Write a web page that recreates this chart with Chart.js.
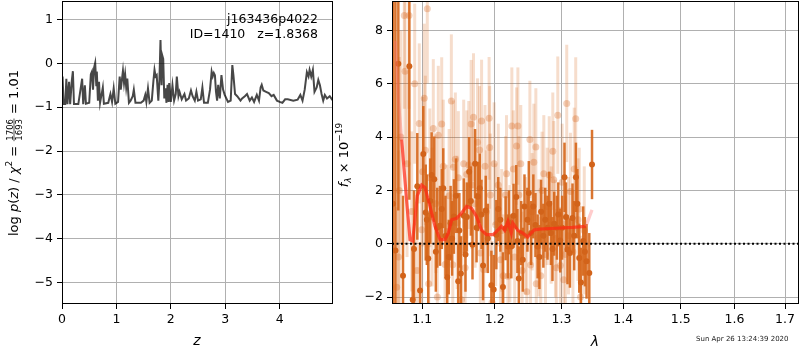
<!DOCTYPE html>
<html>
<head>
<meta charset="utf-8">
<script src="https://cdn.jsdelivr.net/npm/chart.js@4.4.0/dist/chart.umd.min.js"></script>
<style>
  body { margin: 0; background: #fff; }
  #wrap { position: relative; width: 800px; height: 350px; }
  canvas { position: absolute; top: 0; }
  #pz { left: 0; }
  #spec { left: 330px; }
</style>
</head>
<body>
<div id="wrap">
  <canvas id="pz" width="340" height="350"></canvas>
  <canvas id="spec" width="470" height="350"></canvas>
</div>
<script>
// ---- left panel: log p(z) ----
const zGrid = [0.00, 0.01, 0.03, 0.06, 0.08, 0.10, 0.13, 0.15, 0.18, 0.20, 0.22, 0.30, 0.34, 0.37, 0.39, 0.42, 0.44, 0.50,
  0.53, 0.55, 0.57, 0.59, 0.61, 0.63, 0.64, 0.66, 0.68, 0.70, 0.75, 0.77, 0.85, 0.89, 0.92, 0.95, 0.98, 1.03,
  1.06, 1.08, 1.12, 1.14, 1.16, 1.18, 1.20, 1.23, 1.26, 1.30, 1.32, 1.35, 1.45, 1.50, 1.53, 1.55, 1.58, 1.61,
  1.65, 1.68, 1.70, 1.72, 1.74, 1.77, 1.79, 1.81, 1.83, 1.84, 1.86, 1.88, 1.90, 1.92, 1.94, 1.96, 1.97, 2.00,
  2.03, 2.06, 2.09, 2.11, 2.14, 2.16, 2.20, 2.25, 2.28, 2.33, 2.37, 2.40, 2.44, 2.47, 2.50, 2.55, 2.58, 2.61,
  2.68, 2.72, 2.75, 2.77, 2.79, 2.81, 2.83, 2.85, 2.87, 2.90, 2.93, 2.96, 2.99, 3.05, 3.10, 3.13, 3.15, 3.18,
  3.22, 3.28, 3.31, 3.36, 3.40, 3.45, 3.49, 3.53, 3.58, 3.62, 3.65, 3.67, 3.70, 3.75, 3.80, 3.85, 3.89, 3.95,
  4.00, 4.05, 4.10, 4.15, 4.25, 4.33, 4.38, 4.42, 4.46, 4.50, 4.53, 4.55, 4.58, 4.61, 4.64, 4.68, 4.71, 4.74,
  4.77, 4.80, 4.83, 4.87, 4.92, 4.96, 5.00];
const logPz = [-0.55, -0.30, -0.93, -0.93, -0.35, -0.93, -0.42, -0.93, -0.40, -0.18, -0.93, -0.93, -0.60, -0.35, -0.93, -0.50, -0.92, -0.90,
  -0.25, -0.19, -0.60, -0.10, 0.01, -0.50, -0.19, -0.85, -0.42, -0.90, -0.55, -0.92, -0.90, -0.70, -0.88, -0.57, -0.92, -0.88,
  -0.30, -0.60, -0.17, -0.45, -0.25, -0.55, -0.35, -0.90, -0.85, -0.75, -0.60, -0.90, -0.90, -0.85, -0.72, -0.88, -0.57, -0.90,
  -0.85, -0.40, -0.15, -0.30, -0.27, -0.85, -0.40, 0.53, -0.50, 0.19, 0.10, -0.80, -0.57, -0.90, -0.49, -0.88, -0.45, -0.88,
  -0.50, -0.85, -0.70, -0.30, -0.75, -0.65, -0.82, -0.70, -0.85, -0.80, -0.62, -0.75, -0.85, -0.65, -0.85, -0.82, -0.55, -0.90,
  -0.90, -0.60, -0.19, -0.30, -0.22, -0.27, -0.65, -0.85, -0.49, -0.80, -0.27, -0.60, -0.72, -0.88, -0.85, -0.04, -0.27, -0.70,
  -0.75, -0.85, -0.80, -0.75, -0.70, -0.85, -0.78, -0.88, -0.72, -0.85, -0.55, -0.49, -0.62, -0.65, -0.68, -0.75, -0.72, -0.85,
  -0.88, -0.90, -0.82, -0.82, -0.85, -0.83, -0.72, -0.85, -0.60, -0.20, -0.30, -0.15, -0.30, -0.15, -0.65, -0.55, -0.38, -0.50,
  -0.70, -0.85, -0.72, -0.80, -0.75, -0.82, -0.78];
const zTicks = [0, 1, 2, 3, 4];
const logPzTicks = [-5, -4, -3, -2, -1, 0, 1];

// ---- right panel: spectrum (flux in 1e-19 units) ----
const darkLam = [1.0620, 1.0651, 1.0688, 1.0748, 1.0830, 1.0874, 1.0891, 1.0934, 1.0970, 1.1013, 1.1045, 1.1060,
  1.1079, 1.1105, 1.1124, 1.1159, 1.1180, 1.1199, 1.1236, 1.1260, 1.1280, 1.1310, 1.1334, 1.1355, 1.1380, 1.1400,
  1.1425, 1.1455, 1.1484, 1.1500, 1.1521, 1.1562, 1.1585, 1.1604, 1.1636, 1.1660, 1.1683, 1.1719, 1.1740, 1.1761,
  1.1785, 1.1810, 1.1832, 1.1870, 1.1900, 1.1951, 1.1984, 1.2022, 1.2050, 1.2080, 1.2118, 1.2157, 1.2190, 1.2205,
  1.2240, 1.2273, 1.2313, 1.2330, 1.2351, 1.2386, 1.2410, 1.2435, 1.2479, 1.2500, 1.2534, 1.2568, 1.2600, 1.2633,
  1.2660, 1.2685, 1.2720, 1.2749, 1.2784, 1.2810, 1.2836, 1.2860, 1.2887, 1.2929, 1.2950, 1.2980, 1.3010, 1.3047,
  1.3070, 1.3094, 1.3132, 1.3173, 1.3200, 1.3227, 1.3250, 1.3280, 1.3307, 1.3344, 1.3370, 1.3397, 1.3441, 1.3485];
const darkFlux = [1.5, -0.25, 6.75, -1.2, 6.65, -2.1, -0.2, 2.15, -1.75, 3.36, 1.17, 0.9,
  -0.55, 1.6, 2.58, 2.42, -0.3, 0.6, 0.67, 1.3, 2.08, 0.3, -1.26, -0.5, 0.77, 0.2,
  1.02, 1.8, -1.41, 0.5, -1.12, 1.05, -0.4, 1.0, 2.7, 1.6, -0.04, 3.0, 0.6, 1.77,
  2.08, 1.1, -0.82, 1.25, 0.2, -1.56, -1.72, 0.34, 1.3, 0.9, -1.62, 0.58, -0.1, 0.8,
  -0.1, 1.05, 1.75, 0.1, -1.3, 0.4, -0.6, 1.4, 0.9, 1.9, 0.4, 1.4, 0.7, -0.1,
  -0.5, 1.2, 0.3, 0.9, 0.6, 1.5, 0.4, -0.2, 0.75, 0.6, 1.1, 0.12, 0.6, 2.49,
  1.0, -0.22, -0.35, 0.96, 0.3, 2.49, 1.5, -0.54, -1.45, 0.1, -0.3, -0.66, -1.1, 2.97];
const darkErr = [20, 14, 5.5, 3.0, 5.0, 2.0, 2.2, 2.0, 1.8, 1.8, 1.8, 1.7,
  1.7, 1.6, 1.6, 1.6, 1.5, 1.5, 1.5, 1.5, 1.5, 1.5, 1.5, 1.4, 1.4, 1.4,
  1.4, 1.4, 1.4, 1.4, 1.4, 1.4, 1.4, 1.3, 1.3, 1.3, 1.3, 1.3, 1.3, 1.3,
  1.3, 1.3, 1.3, 1.3, 1.3, 1.3, 1.3, 1.3, 1.2, 1.2, 1.3, 1.2, 1.2, 1.2,
  1.2, 1.2, 1.2, 1.2, 1.2, 1.2, 1.2, 1.2, 1.2, 1.2, 1.2, 1.2, 1.2, 1.2,
  1.2, 1.2, 1.2, 1.2, 1.2, 1.2, 1.2, 1.2, 1.2, 1.2, 1.2, 1.2, 1.2, 1.3,
  1.3, 1.3, 1.3, 1.3, 1.3, 1.3, 1.3, 1.3, 1.3, 1.3, 1.3, 1.4, 1.5, 1.3];

const lightLam = [1.0667, 1.0690, 1.0700, 1.0720, 1.0765, 1.0774, 1.0800, 1.0826, 1.0861, 1.0900, 1.0930, 1.0960,
  1.0992, 1.1005, 1.1026, 1.1040, 1.1066, 1.1085, 1.1100, 1.1130, 1.1146, 1.1180, 1.1200, 1.1213, 1.1259, 1.1280,
  1.1304, 1.1327, 1.1360, 1.1390, 1.1410, 1.1418, 1.1445, 1.1470, 1.1486, 1.1530, 1.1560, 1.1580, 1.1603, 1.1631,
  1.1664, 1.1674, 1.1697, 1.1720, 1.1754, 1.1783, 1.1793, 1.1811, 1.1840, 1.1860, 1.1879, 1.1918, 1.1926, 1.1936,
  1.1960, 1.1990, 1.2013, 1.2050, 1.2082, 1.2100, 1.2122, 1.2156, 1.2170, 1.2190, 1.2219, 1.2248, 1.2270, 1.2290,
  1.2318, 1.2337, 1.2352, 1.2380, 1.2400, 1.2450, 1.2470, 1.2516, 1.2526, 1.2550, 1.2576, 1.2606, 1.2612, 1.2651,
  1.2680, 1.2700, 1.2727, 1.2753, 1.2779, 1.2810, 1.2840, 1.2865, 1.2880, 1.2906, 1.2920, 1.2942, 1.2983, 1.3010,
  1.3035, 1.3062, 1.3082, 1.3110, 1.3140, 1.3180, 1.3200, 1.3224, 1.3260, 1.3280, 1.3300, 1.3360];
const lightFlux = [-1.63, -0.5, 2.0, 4.0, 8.56, 6.47, 3.0, 8.56, 1.21, 6.0, -1.0, 4.51,
  0.52, 2.70, 5.45, 3.5, 8.81, -1.5, 2.47, 1.0, 4.32, 1.5, -2.0, 4.07, 4.49, 2.9,
  -0.78, 0.46, 1.8, 5.35, -0.79, 2.87, 3.17, 0.8, 2.47, -2.1, 3.0, -0.9, 2.6, 2.95,
  4.49, 2.2, 4.74, 1.5, 3.80, 3.51, -0.35, 4.60, -0.97, 2.9, 1.2, 4.70, 3.61, 1.83,
  -2.2, 3.0, 0.71, 2.2, -0.6, 0.5, -1.2, 1.83, 2.62, -1.22, 0.0, 4.41, 2.8, -0.5,
  3.66, 4.41, 1.83, 3.0, -1.0, 0.3, -1.8, 3.91, -0.8, 1.2, 3.05, 3.63, -1.5, 0.22,
  -1.2, 2.0, 2.62, -0.4, 1.4, 2.58, 0.7, 3.47, 2.4, 0.2, -0.9, 4.82, -0.82, 2.3,
  -1.35, -0.4, 5.26, 0.3, 1.96, -0.3, 2.8, 4.69, 0.9, 1.3, -2.0, 0.5];
const lightErr = [3.0, 4.0, 5.0, 4.0, 3.5, 3.5, 3.5, 3.5, 3.0, 3.0, 3.0, 3.0,
  2.8, 2.8, 2.8, 2.8, 2.8, 2.7, 2.6, 2.6, 2.6, 2.6, 2.6, 2.6, 2.5, 2.5,
  2.5, 2.5, 2.5, 2.5, 2.5, 2.5, 2.5, 2.5, 2.5, 2.4, 2.4, 2.4, 2.4, 2.4,
  2.4, 2.4, 2.4, 2.4, 2.4, 2.4, 2.3, 2.3, 2.3, 2.3, 2.3, 2.3, 2.3, 2.3,
  2.3, 2.3, 2.3, 2.3, 2.3, 2.3, 2.3, 2.2, 2.2, 2.2, 2.2, 2.2, 2.2, 2.2,
  2.2, 2.2, 2.2, 2.2, 2.2, 2.2, 2.2, 2.2, 2.2, 2.2, 2.2, 2.2, 2.2, 2.2,
  2.2, 2.2, 2.2, 2.2, 2.2, 2.2, 2.2, 2.2, 2.2, 2.2, 2.2, 2.2, 2.2, 2.2,
  2.2, 2.2, 2.2, 2.2, 2.2, 2.3, 2.3, 2.3, 2.3, 2.3, 2.3, 2.4];

const modelLam = [1.0650, 1.0688, 1.0731, 1.0795, 1.0839, 1.0874, 1.0934, 1.0992, 1.1036, 1.1102, 1.1169, 1.1236,
  1.1304, 1.1349, 1.1395, 1.1463, 1.1531, 1.1600, 1.1669, 1.1739, 1.1809, 1.1880, 1.1975, 1.2046, 1.2095, 1.2143,
  1.2190, 1.2240, 1.2263, 1.2336, 1.2409, 1.2483, 1.2534, 1.2583, 1.2658, 1.2912, 1.3173, 1.3386, 1.3485];
const modelFlux = [7.6, 5.38, 3.9, 1.6, 0.15, 0.1, 1.8, 2.2, 2.1, 1.4, 0.65, 0.15,
  0.15, 0.4, 0.9, 0.95, 1.15, 1.4, 1.33, 1.02, 0.52, 0.34, 0.34, 0.52, 0.65, 0.5,
  0.83, 0.4, 0.77, 0.5, 0.4, 0.25, 0.4, 0.52, 0.55, 0.58, 0.61, 0.65, 1.27];

const lamTicks = [1.1, 1.2, 1.3, 1.4, 1.5, 1.6, 1.7];
const fluxTicks = [-2, 0, 2, 4, 6, 8];

const FONT = 'DejaVu Sans';
const GRID = '#b0b0b0';
const minus = v => String(v).replace('-', '\u2212');

// draw error bars under the markers of any dataset that carries `errors`
const errorBars = {
  id: 'errorBars',
  beforeDatasetDraw(chart, args) {
    const ds = chart.data.datasets[args.index];
    if (!ds.errors) return;
    const xs = chart.scales.x, ys = chart.scales.y, a = chart.chartArea, ctx = chart.ctx;
    ctx.save();
    ctx.beginPath();
    ctx.rect(a.left, a.top, a.right - a.left, a.bottom - a.top);
    ctx.clip();
    ctx.strokeStyle = ds.errorColor;
    ctx.lineWidth = ds.errorWidth;
    ds.data.forEach((p, i) => {
      const x = xs.getPixelForValue(p.x);
      ctx.beginPath();
      ctx.moveTo(x, ys.getPixelForValue(p.y - ds.errors[i]));
      ctx.lineTo(x, ys.getPixelForValue(p.y + ds.errors[i]));
      ctx.stroke();
    });
    ctx.restore();
  }
};

// matplotlib-like frame around the plot area
const frame = {
  id: 'frame',
  afterDraw(chart) {
    const a = chart.chartArea, ctx = chart.ctx;
    ctx.save();
    ctx.strokeStyle = '#000';
    ctx.lineWidth = 1;
    ctx.strokeRect(Math.round(a.left) + 0.5, Math.round(a.top) + 0.5,
      Math.round(a.right - a.left) - 1, Math.round(a.bottom - a.top) - 1);
    ctx.restore();
  }
};

// draw a run of text pieces centred on (cx, cy), optionally rotated
function richText(ctx, parts, cx, cy, rot) {
  const widths = parts.map(p => {
    ctx.font = p.f;
    if (p.frac) {
      return Math.max(ctx.measureText(p.frac[0]).width, ctx.measureText(p.frac[1]).width) + 2;
    }
    return ctx.measureText(p.t).width;
  });
  const total = widths.reduce((s, w) => s + w, 0);
  ctx.save();
  ctx.translate(cx, cy);
  ctx.rotate(rot || 0);
  ctx.fillStyle = '#000';
  ctx.strokeStyle = '#000';
  ctx.textBaseline = 'alphabetic';
  let x = -total / 2;
  parts.forEach((p, i) => {
    ctx.font = p.f;
    if (p.frac) {
      const w = widths[i];
      ctx.textAlign = 'center';
      ctx.fillText(p.frac[0], x + w / 2, -5.5);
      ctx.fillText(p.frac[1], x + w / 2, 3.5);
      ctx.lineWidth = 0.7;
      ctx.beginPath();
      ctx.moveTo(x + 0.5, -4);
      ctx.lineTo(x + w - 0.5, -4);
      ctx.stroke();
    } else {
      ctx.textAlign = 'left';
      ctx.fillText(p.t, x, p.dy || 0);
    }
    x += widths[i];
  });
  ctx.restore();
}

function fixedTicks(values) {
  return scale => { scale.ticks = values.map(v => ({ value: v })); };
}

// pin the axis box size and drop Chart.js' label overhang padding
function fitX(h) {
  return s => { s.height = h; s.paddingLeft = 0; s.paddingRight = 0; };
}
function fitY(w) {
  return s => { s.width = w; s.paddingTop = 0; s.paddingBottom = 0; };
}

function scaleOpts(extra, tickExtra) {
  return Object.assign({
    bounds: 'data',
    border: { display: false },
    grid: { color: GRID, lineWidth: 1, tickColor: '#000', tickLength: 5, drawTicks: true },
    ticks: Object.assign({ color: '#000', font: { family: FONT, size: 12.5 }, padding: 4, autoSkip: false, maxRotation: 0 }, tickExtra),
    title: { display: false }
  }, extra);
}

const N = 13;
const up = `${N}px "${FONT}"`;
const it = `italic ${N}px "${FONT}"`;

// ---- left chart ----
const pzLabels = {
  id: 'pzLabels',
  afterDraw(chart) {
    const ctx = chart.ctx;
    ctx.save();
    ctx.fillStyle = '#000';
    ctx.font = `12.5px "${FONT}"`;
    ctx.textAlign = 'right';
    ctx.textBaseline = 'middle';
    ctx.fillText('j163436p4022', 318, 20);
    ctx.fillText('ID=1410   z=1.8368', 318, 35);
    ctx.restore();
    richText(ctx, [{ t: 'z', f: `italic 14px "${FONT}"` }], 197, 345, 0);
    richText(ctx, [
      { t: 'log ', f: up }, { t: 'p', f: it }, { t: '(', f: up }, { t: 'z', f: it }, { t: ') / ', f: up },
      { t: '\u03c7', f: it }, { t: '2', f: `9px "${FONT}"`, dy: -6 }, { t: ' = ', f: up },
      { frac: ['1706', '1693'], f: `8.5px "${FONT}"` }, { t: ' = 1.01', f: up }
    ], 18, 153, -Math.PI / 2);
  }
};

new Chart(document.getElementById('pz'), {
  type: 'line',
  data: {
    datasets: [{
      data: zGrid.map((z, i) => ({ x: z, y: logPz[i] })),
      borderColor: 'rgba(0,0,0,0.72)',
      borderWidth: 2,
      pointRadius: 0,
      tension: 0
    }]
  },
  options: {
    responsive: false,
    devicePixelRatio: 1,
    animation: false,
    events: [],
    layout: { autoPadding: false, padding: { top: 1, right: 7, left: 0, bottom: 0 } },
    plugins: { legend: { display: false }, tooltip: { enabled: false } },
    scales: {
      x: scaleOpts({
        type: 'linear', min: 0, max: 4.98,
        afterBuildTicks: fixedTicks(zTicks),
        afterFit: fitX(46)
      }, { padding: 3, callback: minus }),
      y: scaleOpts({
        type: 'linear', min: -5.485, max: 1.42,
        afterBuildTicks: fixedTicks(logPzTicks),
        afterFit: fitY(62)
      }, { padding: 4, callback: minus })
    }
  },
  plugins: [frame, pzLabels]
});

// ---- right chart ----
const RED_FROM = 1.0731, RED_TO = 1.3386;
const specLabels = {
  id: 'specLabels',
  afterDraw(chart) {
    const ctx = chart.ctx;
    richText(ctx, [{ t: '\u03bb', f: `italic 14px "${FONT}"` }], 265, 346, 0);
    richText(ctx, [
      { t: 'f', f: it }, { t: '\u03bb', f: `italic 9px "${FONT}"`, dy: 3 }, { t: ' \u00d7 10', f: up },
      { t: '\u221219', f: `9px "${FONT}"`, dy: -6 }
    ], 18, 155, -Math.PI / 2);
    ctx.save();
    ctx.fillStyle = '#222';
    ctx.font = `7px "${FONT}"`;
    ctx.textAlign = 'left';
    ctx.textBaseline = 'middle';
    ctx.fillText('Sun Apr 26 13:24:39 2020', 366, 339);
    ctx.restore();
  }
};

new Chart(document.getElementById('spec'), {
  type: 'scatter',
  data: {
    datasets: [
      {
        data: [{ x: 1.0607, y: 0 }, { x: 1.7288, y: 0 }],
        showLine: true, borderColor: '#000', borderWidth: 2, borderDash: [2, 2.5], pointRadius: 0
      },
      {
        data: modelLam.map((l, i) => ({ x: l, y: modelFlux[i] })),
        showLine: true, borderWidth: 3.2, pointRadius: 0,
        segment: {
          borderColor: c => (c.p1.parsed.x <= RED_FROM || c.p0.parsed.x >= RED_TO)
            ? 'rgba(255,110,110,0.35)' : 'rgba(255,40,20,0.72)'
        }
      },
      {
        data: darkLam.map((l, i) => ({ x: l, y: darkFlux[i] })),
        errors: darkErr, errorColor: 'rgba(214,102,26,0.9)', errorWidth: 2.5,
        pointRadius: 3, pointBackgroundColor: '#d2631a', pointBorderWidth: 0
      },
      {
        data: lightLam.map((l, i) => ({ x: l, y: lightFlux[i] })),
        errors: lightErr, errorColor: 'rgba(215,100,25,0.22)', errorWidth: 3,
        pointRadius: 3.5, pointBackgroundColor: 'rgba(215,100,25,0.3)', pointBorderWidth: 0
      }
    ]
  },
  options: {
    responsive: false,
    devicePixelRatio: 1,
    animation: false,
    events: [],
    layout: { autoPadding: false, padding: { top: 1, right: 1, left: 0, bottom: 0 } },
    plugins: { legend: { display: false }, tooltip: { enabled: false } },
    scales: {
      x: scaleOpts({
        type: 'logarithmic', min: 1.0607, max: 1.7288,
        afterBuildTicks: fixedTicks(lamTicks),
        afterFit: fitX(46)
      }, { padding: 3, callback: v => v.toFixed(1) }),
      y: scaleOpts({
        type: 'linear', min: -2.26, max: 9.1,
        afterBuildTicks: fixedTicks(fluxTicks),
        afterFit: fitY(62)
      }, { padding: 4, callback: minus })
    }
  },
  plugins: [errorBars, frame, specLabels]
});
</script>
</body>
</html>
